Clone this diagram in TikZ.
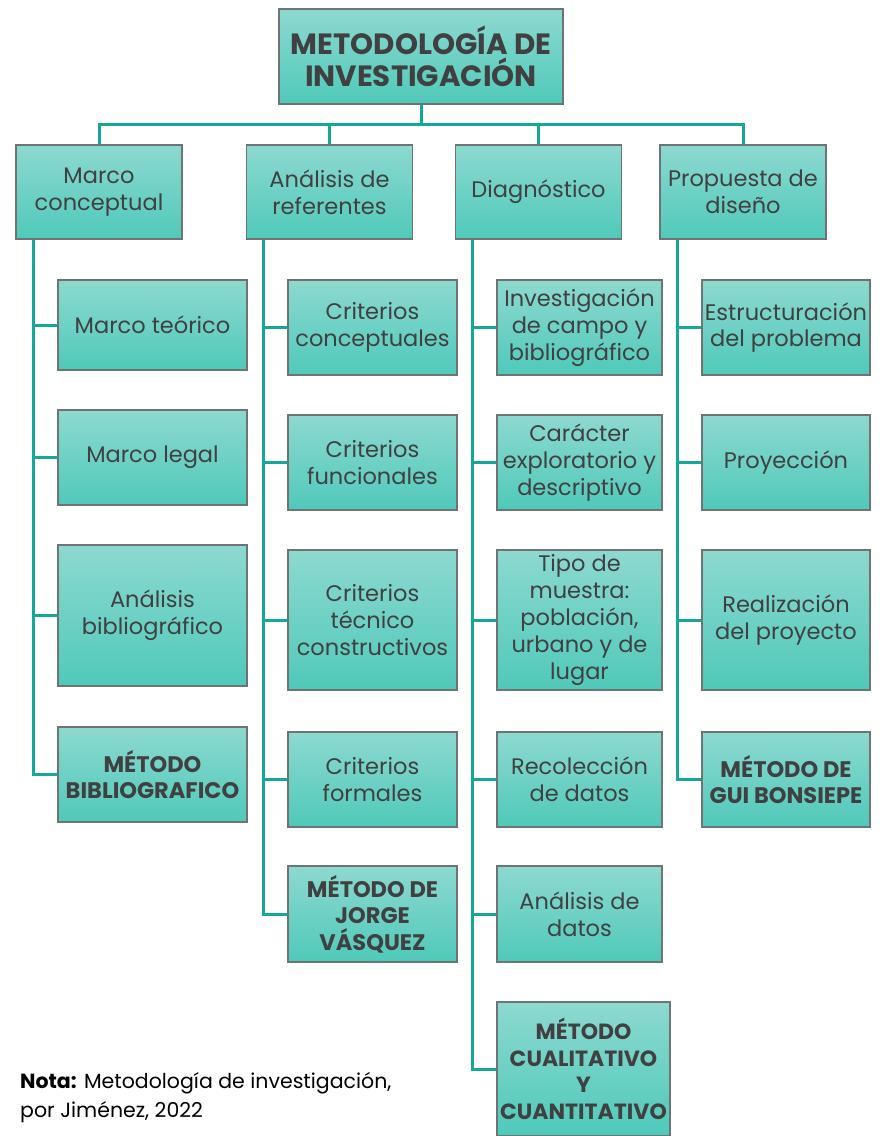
\documentclass[tikz,border=0pt]{standalone}
\usepackage{fontspec}
\setmainfont{Poppins}
\definecolor{boxtop}{HTML}{8DD9D0}
\definecolor{boxbot}{HTML}{4FC9BA}
\definecolor{boxline}{HTML}{6E7473}
\definecolor{linkcol}{HTML}{14A89A}
\definecolor{txt}{HTML}{404040}
\tikzset{
  box/.style={draw=boxline, line width=1.1pt, top color=boxtop, bottom color=boxbot,
    text=txt, align=center, inner sep=1pt,
    font=\fontsize{22.5}{26.8}\selectfont},
  bbox/.style={box, font=\fontsize{22.5}{26.5}\selectfont\bfseries},
  lvl/.style={box, minimum width=166pt, minimum height=94pt},
  link/.style={draw=linkcol, line width=3pt}
}
\begin{document}
\begin{tikzpicture}[x=1pt, y=-1pt]%
   % pixel grid of the reference: x right, y down
   \useasboundingbox (0,0) rectangle (881,1136);

   % Title
   \node[box, minimum width=284pt, minimum height=95pt,
     font=\fontsize{29.3}{32}\selectfont\bfseries] (top) at (421,56.5)
     {METODOLOGÍA DE\\INVESTIGACIÓN};

   % First level
   \node[lvl] (mc) at (99,192)    {Marco\\conceptual};
   \node[lvl] (ar) at (329.5,192) {Análisis de\\referentes};
   \node[lvl] (dg) at (538.5,192) {Diagnóstico};
   \node[lvl] (pd) at (743,192)   {Propuesta de\\diseño};

   \foreach \n in {mc,ar,dg,pd}
     \draw[link] (top.south) -- ++(0,20) -| (\n.north);

   % Marco conceptual
   \node[box, minimum width=189pt, minimum height=90pt]  (mc1) at (152.5,325)   {Marco teórico};
   \node[box, minimum width=189pt, minimum height=95pt]  (mc2) at (152.5,457.5) {Marco legal};
   \node[box, minimum width=189pt, minimum height=141pt] (mc3) at (152.5,615.5) {Análisis\\bibliográfico};
   \node[bbox, minimum width=189pt, minimum height=95pt] (mc4) at (152.5,774.5) {MÉTODO\\BIBLIOGRAFICO};

   % Analisis de referentes
   \node[box, minimum width=169pt, minimum height=95pt]  (ar1) at (372.5,327.5) {Criterios\\conceptuales};
   \node[box, minimum width=169pt, minimum height=95pt]  (ar2) at (372.5,462.5) {Criterios\\funcionales};
   \node[box, minimum width=169pt, minimum height=140pt] (ar3) at (372.5,620)   {Criterios\\técnico\\constructivos};
   \node[box, minimum width=169pt, minimum height=95pt]  (ar4) at (372.5,779.5) {Criterios\\formales};
   \node[bbox, minimum width=169pt, minimum height=96pt] (ar5) at (372.5,914)   {MÉTODO DE\\JORGE\\VÁSQUEZ};

   % Diagnostico
   \node[box, minimum width=165pt, minimum height=95pt]  (dg1) at (579.5,327.5) {Investigación\\de campo y\\bibliográfico};
   \node[box, minimum width=165pt, minimum height=95pt]  (dg2) at (579.5,462.5) {Carácter\\exploratorio y\\descriptivo};
   \node[box, minimum width=165pt, minimum height=140pt] (dg3) at (579.5,620)   {Tipo de\\muestra:\\población,\\urbano y de\\lugar};
   \node[box, minimum width=165pt, minimum height=95pt]  (dg4) at (579.5,779.5) {Recolección\\de datos};
   \node[box, minimum width=165pt, minimum height=96pt]  (dg5) at (579.5,914)   {Análisis de\\datos};
   \node[bbox, minimum width=173pt, minimum height=134pt,
     font=\fontsize{22}{26.5}\selectfont\bfseries] (dg6) at (583.5,1069) {MÉTODO\\CUALITATIVO\\Y\\CUANTITATIVO};

   % Propuesta de diseno
   \node[box, minimum width=168pt, minimum height=95pt]  (pd1) at (786,327.5) {Estructuración\\del problema};
   \node[box, minimum width=168pt, minimum height=95pt]  (pd2) at (786,462.5) {Proyección};
   \node[box, minimum width=168pt, minimum height=140pt] (pd3) at (786,620)   {Realización\\del proyecto};
   \node[bbox, minimum width=168pt, minimum height=95pt] (pd4) at (786,779.5) {MÉTODO DE\\GUI BONSIEPE};

   % Connectors
   \foreach \c in {mc1,mc2,mc3,mc4}
     \draw[link] ([xshift=18pt]mc.south west) |- (\c.west);
   \foreach \c in {ar1,ar2,ar3,ar4,ar5}
     \draw[link] ([xshift=18pt]ar.south west) |- (\c.west);
   \foreach \c in {dg1,dg2,dg3,dg4,dg5,dg6}
     \draw[link] ([xshift=18pt]dg.south west) |- (\c.west);
   \foreach \c in {pd1,pd2,pd3,pd4}
     \draw[link] ([xshift=18pt]pd.south west) |- (\c.west);

   % Note
   \node[anchor=north west, align=left, inner sep=0pt,
     font=\fontsize{20.5}{29}\selectfont] (nota) at (20,1072)
     {\textbf{Nota:} Metodología de investigación,\\por Jiménez, 2022};
\end{tikzpicture}
\end{document}
